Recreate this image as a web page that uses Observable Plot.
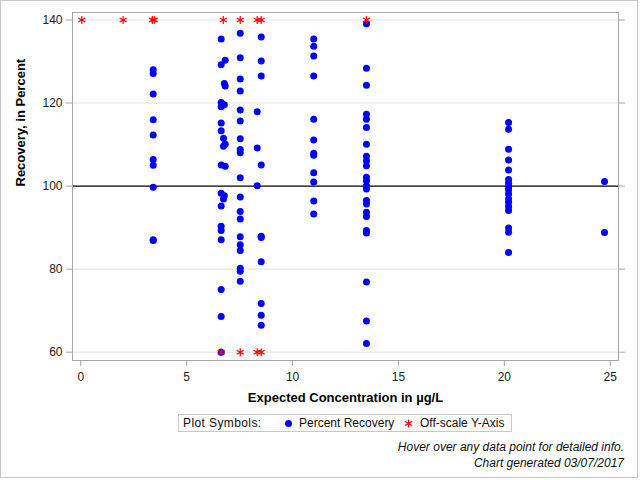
<!DOCTYPE html>
<html>
<head>
<meta charset="utf-8">
<script src="https://cdn.jsdelivr.net/npm/d3@7"></script>
<script src="https://cdn.jsdelivr.net/npm/@observablehq/plot@0.6"></script>
<style>
  body { margin: 0; background: #fff; font-family: "Liberation Sans", Arial, sans-serif; }
  #wrap { position: relative; width: 640px; height: 480px; overflow: hidden; }
  #border { position: absolute; left: 0; top: 0; width: 636px; height: 476px; border: 1px solid #c8c8c8; }
  #chart { position: absolute; left: 0; top: 0; }
  #legend { position: absolute; left: 178px; top: 414px; width: 332px; height: 16px; border: 1px solid #c8c8c8; font-size: 12px; color: #111; }
  #legend span { position: absolute; top: 1px; white-space: nowrap; }
  #legend svg { position: absolute; }
  .foot { position: absolute; right: 16px; font-size: 12px; font-style: italic; color: #111; white-space: nowrap; }
</style>
</head>
<body>
<div id="wrap">
  <div id="border"></div>
  <div id="chart"></div>
  <div id="legend">
    <span style="left:4px;letter-spacing:0.4px">Plot Symbols:</span>
    <svg style="left:105px;top:4px" width="9" height="9"><circle cx="4.5" cy="4.5" r="3.5" fill="#0000ff"/></svg>
    <span style="left:120px">Percent Recovery</span>
    <svg style="left:225px;top:4px" width="9" height="9"><path d="M4.5,0.5V8.5M1,2.5L8,6.5M1,6.5L8,2.5" stroke="#ff0000" stroke-width="1.2" fill="none"/></svg>
    <span style="left:241px">Off-scale Y-Axis</span>
  </div>
  <div class="foot" style="top:440px">Hover over any data point for detailed info.</div>
  <div class="foot" style="top:456px">Chart generated 03/07/2017</div>
</div>
<script>
// Expected concentration (µg/L) for each group of points, and recoveries (%) in each group
const groupConc = [3.42, 6.63, 6.74, 6.78, 6.82, 7.53, 8.33, 8.52, 11.0, 13.49, 20.2, 24.73];
const groupRecovery = [
  [128.0, 127.1, 122.2, 116.0, 112.3, 106.4, 105.0, 99.7, 87.1, 86.9],
  [135.4, 129.2, 120.1, 119.1, 115.2, 113.3, 105.1, 98.3, 95.2, 90.3, 89.3, 87.1, 75.1, 68.6, 60.0],
  [111.5, 109.6, 96.9],
  [124.7, 119.6, 97.7],
  [130.3, 124.1, 110.1, 104.8],
  [136.8, 130.9, 125.8, 122.9, 118.3, 115.7, 111.4, 108.8, 108.0, 102.0, 97.4, 93.9, 92.1, 87.8, 85.9, 84.5, 80.2, 79.5, 77.1],
  [117.9, 109.2, 100.1],
  [135.9, 130.1, 126.5, 105.1, 87.9, 87.6, 81.8, 71.7, 68.9, 66.5],
  [135.4, 133.7, 131.3, 126.5, 116.1, 111.1, 107.9, 107.4, 103.2, 101.0, 96.4, 93.3],
  [139.1, 128.4, 124.3, 117.3, 116.1, 114.1, 110.1, 107.2, 106.1, 104.9, 102.1, 101.3, 100.1, 99.3, 96.5, 95.7, 93.7, 92.7, 89.3, 88.7, 76.9, 67.5, 62.1],
  [115.3, 113.7, 108.9, 106.3, 103.9, 101.6, 100.7, 99.9, 99.1, 98.1, 96.9, 96.1, 95.1, 94.1, 89.9, 88.9, 84.0],
  [101.1, 88.8]
];
// Off-scale values: concentrations of points above the top / below the bottom of the axis
const offHighConc = [0.05, 2.0, 3.38, 3.47, 6.73, 7.53, 8.33, 8.52, 13.49];
const offLowConc = [6.63, 7.53, 8.33, 8.52];
const yTop = 140, yBottom = 60, refValue = 100;
const xTicks = [0, 5, 10, 15, 20, 25];
const yTicks = [60, 80, 100, 120, 140];
const gridValues = [60, 80, 120, 140];

const points = groupConc.flatMap((c, i) => groupRecovery[i].map(r => ({conc: c, rec: r})));
const offScale = [
  ...offHighConc.map(c => ({conc: c, rec: yTop})),
  ...offLowConc.map(c => ({conc: c, rec: yBottom}))
];

const font = "Liberation Sans, Arial, sans-serif";
const chart = Plot.plot({
  width: 640,
  height: 410,
  marginLeft: 72,
  marginRight: 22,
  marginTop: 12,
  marginBottom: 50,
  style: {fontFamily: font, fontSize: "12px", background: "transparent", overflow: "visible"},
  x: {domain: [-0.39, 25.39], label: null},
  y: {domain: [58.0, 141.8], label: null},
  marks: [
    Plot.gridY(gridValues, {stroke: "#e2e2e2", strokeOpacity: 1}),
    Plot.ruleY([refValue], {stroke: "#000", strokeWidth: 1.3}),
    Plot.frame({stroke: "#a6a6a6"}),
    Plot.axisY({anchor: "left", ticks: yTicks, tickSize: 6, tickPadding: 4, stroke: "#a6a6a6", fill: "#222", label: null}),
    Plot.axisY({anchor: "right", ticks: yTicks, tickSize: 6, tickFormat: () => "", stroke: "#a6a6a6", label: null}),
    Plot.axisX({anchor: "bottom", ticks: xTicks, tickSize: 6, tickPadding: 6, stroke: "#a6a6a6", fill: "#222", label: null}),
    Plot.dot(points, {x: "conc", y: "rec", r: 3.5, fill: "#0000ff", stroke: null}),
    Plot.dot(offScale, {x: "conc", y: "rec", symbol: "asterisk", r: 3.8, stroke: "#ff0000", strokeWidth: 1.2}),
    Plot.text(["Recovery, in Percent"], {frameAnchor: "left", dx: -52, rotate: -90, fontSize: 13, fontWeight: "bold", fill: "#000"}),
    Plot.text(["Expected Concentration in µg/L"], {frameAnchor: "bottom", dy: 41, fontSize: 13, fontWeight: "bold", fill: "#000"})
  ]
});
document.getElementById("chart").appendChild(chart);
</script>
</body>
</html>
